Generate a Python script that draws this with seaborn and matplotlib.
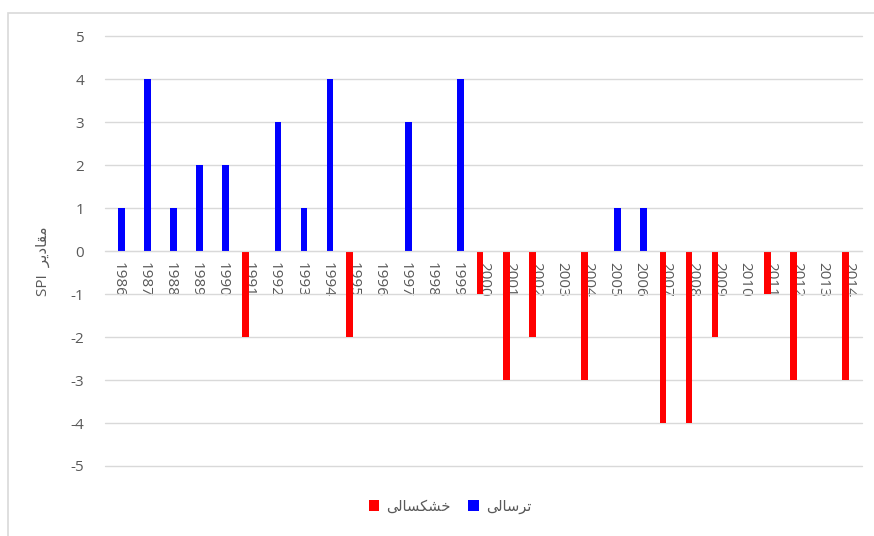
import matplotlib
matplotlib.use('Agg')
import matplotlib.pyplot as plt
from matplotlib.patches import Rectangle
import seaborn as sns
import pandas as pd

# data
years = list(range(1986, 2015))
wet = [1, 4, 1, 2, 2, 0, 3, 1, 4, 0, 0, 3, 0, 4, 0,
       0, 0, 0, 0, 1, 1, 0, 0, 0, 0, 0, 0, 0, 0]
drought = [0, 0, 0, 0, 0, -2, 0, 0, 0, -2, 0, 0, 0, 0, -1,
           -3, -2, 0, -3, 0, 0, -4, -4, -2, 0, -1, -3, 0, -3]
yticks = list(range(-5, 6))

# Persian labels, written in shaped (presentation) forms, visual order
# خشکسالی / ترسالی / مقادیر
lbl_drought = '\uFEF0\uFEDF\uFE8E\uFEB4\uFEDC\uFEB8\uFEA7'
lbl_wet = '\uFEF0\uFEDF\uFE8E\uFEB3\uFEAE\uFE97'
lbl_values = '\uFEAE\uFEF3\uFEA9\uFE8E\uFED8\uFEE3'

sns.set_style('white')
plt.rcParams['font.family'] = ['Open Sans', 'DejaVu Sans']
plt.rcParams['axes.unicode_minus'] = False
grey = '#595959'
gridc = '#d9d9d9'

df = pd.DataFrame({
    'year': [str(y) for y in years] * 2,
    'value': drought + wet,
    'type': [lbl_drought] * len(years) + [lbl_wet] * len(years),
})

fig = plt.figure(figsize=(8.74, 5.36), dpi=100)
ax = fig.add_axes([0.1201, 0.1306, 0.8662, 0.8022])

sns.barplot(data=df, x='year', y='value', hue='type',
            hue_order=[lbl_drought, lbl_wet],
            palette={lbl_drought: '#ff0000', lbl_wet: '#0000ff'},
            width=0.5, dodge=True, saturation=1, linewidth=0,
            errorbar=None, ax=ax)

ax.set_xlim(-0.5, len(years) - 0.5)
ax.set_ylim(-5, 5)
ax.set_yticks(yticks)
ax.set_yticklabels([str(t) for t in yticks], color=grey, fontsize=11)
ax.grid(axis='y', color=gridc, linewidth=1)
for gl in ax.get_ygridlines():
    gl.set_clip_on(False)
ax.set_axisbelow(True)
for s in ['top', 'right', 'left']:
    ax.spines[s].set_visible(False)
ax.spines['bottom'].set_position(('data', 0))
ax.spines['bottom'].set_color(gridc)
ax.tick_params(axis='y', length=0, pad=15)
ax.tick_params(axis='x', length=0, pad=8, labelrotation=-90,
               labelcolor=grey, labelsize=11)
ax.set_xlabel('')
ax.set_ylabel('SPI  ' + lbl_values, color=grey, fontsize=11, labelpad=14)
ax.yaxis.label.set_y(0.477)

h, l = ax.get_legend_handles_labels()
ax.get_legend().remove()
fig.legend(h, l, loc='center', bbox_to_anchor=(0.515, 0.054), ncol=2,
           frameon=False, handlelength=0.7, handleheight=0.7,
           columnspacing=1.2, handletextpad=0.5,
           prop={'size': 10.5}, labelcolor=grey)

fig.patches.append(Rectangle((8 / 874, -0.2), 1.2, 1.2 - 13 / 536,
                             transform=fig.transFigure, fill=False,
                             edgecolor=gridc, linewidth=1.2))

fig.savefig('out.png', dpi=100)
